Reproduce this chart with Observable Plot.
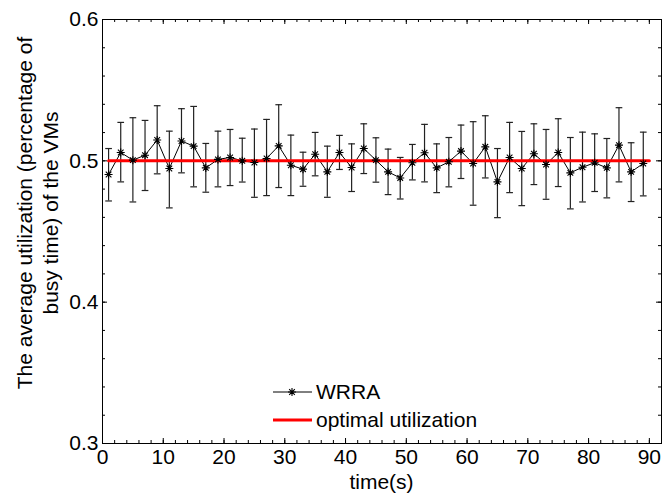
<!DOCTYPE html>
<html><head><meta charset="utf-8">
<script src="https://cdn.jsdelivr.net/npm/d3@7"></script>
<script src="https://cdn.jsdelivr.net/npm/@observablehq/plot@0.6"></script>
<style>
body{margin:0;background:#fff}
#chart{position:relative;width:664px;height:495px}
</style>
</head><body><div id="chart"></div>
<script>
// ---- data ----
const time = [1,3,5,7,9,11,13,15,17,19,21,23,25,27,29,31,33,35,37,39,41,43,45,47,49,51,53,55,57,59,61,63,65,67,69,71,73,75,77,79,81,83,85,87,89];
const wrra = [0.4903,0.5059,0.5005,0.5040,0.5147,0.4946,0.5140,0.5104,0.4950,0.5010,0.5024,0.5000,0.4988,0.5017,0.5106,0.4969,0.4941,0.5047,0.4922,0.5059,0.4953,0.5087,0.5005,0.4922,0.4879,0.4986,0.5057,0.4950,0.4993,0.5069,0.4981,0.5099,0.4851,0.5024,0.4946,0.5050,0.4974,0.5059,0.4915,0.4955,0.4986,0.4950,0.5111,0.4922,0.4981];
const wrraUpper = [0.5087,0.5272,0.5305,0.5286,0.5390,0.5210,0.5369,0.5385,0.5123,0.5210,0.5222,0.5160,0.5225,0.5293,0.5397,0.5182,0.5061,0.5201,0.5104,0.5180,0.5120,0.5262,0.5163,0.5083,0.5024,0.5116,0.5258,0.5120,0.5165,0.5253,0.5277,0.5319,0.5087,0.5272,0.5208,0.5262,0.5222,0.5298,0.5165,0.5203,0.5191,0.5158,0.5376,0.5128,0.5203];
const wrraLower = [0.4716,0.4851,0.4709,0.4790,0.4908,0.4667,0.4915,0.4816,0.4778,0.4816,0.4825,0.4850,0.4742,0.4754,0.4811,0.4754,0.4820,0.4894,0.4742,0.4939,0.4783,0.4910,0.4849,0.4761,0.4730,0.4865,0.4851,0.4775,0.4816,0.4875,0.4686,0.4879,0.4598,0.4775,0.4683,0.4832,0.4728,0.4818,0.4660,0.4709,0.4783,0.4738,0.4851,0.4712,0.4752];
const optimalTime = [1, 90];
const optimalValue = [0.5, 0.5];
const xTickLabels = [0,10,20,30,40,50,60,70,80,90];
const xMinorTicks = [0,2,4,6,8,10,12,14,16,18,20,22,24,26,28,30,32,34,36,38,40,42,44,46,48,50,52,54,56,58,60,62,64,66,68,70,72,74,76,78,80,82,84,86,88,90,92];
const yTickLabels = [0.3,0.4,0.5,0.6];
const yMinorTicks = [0.3,0.32,0.34,0.36,0.38,0.4,0.42,0.44,0.46,0.48,0.5,0.52,0.54,0.56,0.58,0.6];
const seriesNames = ["WRRA", "optimal utilization"];

// ---- tables ----
const wrraData = time.map((t, i) => ({t, v: wrra[i], lo: wrraLower[i], hi: wrraUpper[i]}));
const optData = optimalTime.map((t, i) => ({t, v: optimalValue[i]}));

// MATLAB-style '*' marker: + and x overlaid
const star = {
  draw(ctx, size) {
    const r = Math.sqrt(size / Math.PI), d = r * Math.SQRT1_2;
    ctx.moveTo(-r, 0); ctx.lineTo(r, 0);
    ctx.moveTo(0, -r); ctx.lineTo(0, r);
    ctx.moveTo(-d, -d); ctx.lineTo(d, d);
    ctx.moveTo(-d, d); ctx.lineTo(d, -d);
  }
};

const W = 664, H = 495, mL = 102, mR = 3, mT = 19, mB = 52;
const fw = W - mL - mR, fh = H - mT - mB;
const major = 5, minor = 3;
const capHalf = 0.55;
const FS = 21;
const font = "'Liberation Sans', Arial, Helvetica, sans-serif";

const chart = Plot.plot({
  width: W, height: H,
  marginLeft: mL, marginRight: mR, marginTop: mT, marginBottom: mB,
  style: {fontFamily: font, fontSize: FS + "px", color: "#000", background: "#fff"},
  x: {domain: [0, 92]},
  y: {domain: [0.3, 0.6]},
  marks: [
    // error bars
    Plot.ruleX(wrraData, {x: "t", y1: "lo", y2: "hi", stroke: "#222", strokeWidth: 1.2}),
    Plot.link(wrraData, {x1: d => d.t - capHalf, x2: d => d.t + capHalf, y1: "hi", y2: "hi", stroke: "#222", strokeWidth: 1.2}),
    Plot.link(wrraData, {x1: d => d.t - capHalf, x2: d => d.t + capHalf, y1: "lo", y2: "lo", stroke: "#222", strokeWidth: 1.2}),
    Plot.line(wrraData, {x: "t", y: "v", stroke: "#000", strokeWidth: 1}),
    Plot.line(optData, {x: "t", y: "v", stroke: "#ff0000", strokeWidth: 3}),
    Plot.dot(wrraData, {x: "t", y: "v", symbol: star, r: 4, stroke: "#000", strokeWidth: 1.1, fill: "none"}),
    // inward ticks on all four sides
    Plot.tickX(xMinorTicks, {x: d => d, insetTop: fh - minor, stroke: "#000"}),
    Plot.tickX(xMinorTicks, {x: d => d, insetBottom: fh - minor, stroke: "#000"}),
    Plot.tickX(xTickLabels, {x: d => d, insetTop: fh - major, stroke: "#000"}),
    Plot.tickX(xTickLabels, {x: d => d, insetBottom: fh - major, stroke: "#000"}),
    Plot.tickY(yMinorTicks, {y: d => d, insetRight: fw - minor, stroke: "#000"}),
    Plot.tickY(yMinorTicks, {y: d => d, insetLeft: fw - minor, stroke: "#000"}),
    Plot.tickY(yTickLabels, {y: d => d, insetRight: fw - major, stroke: "#000"}),
    Plot.tickY(yTickLabels, {y: d => d, insetLeft: fw - major, stroke: "#000"}),
    Plot.axisX({ticks: xTickLabels, tickSize: 0, tickPadding: 6, tickFormat: d => String(d), label: null, fontSize: FS}),
    Plot.axisY({ticks: yTickLabels, tickSize: 0, tickPadding: 4, tickFormat: d3.format(".1f"), label: null, fontSize: FS}),
    Plot.frame({stroke: "#000", strokeWidth: 1})
  ]
});

document.getElementById("chart").appendChild(chart);

// titles and legend (layout text)
const svg = d3.select(chart);
svg.append("text").attr("x", mL + fw / 2).attr("y", 489).attr("text-anchor", "middle")
  .attr("font-family", font).attr("font-size", FS).attr("fill", "#000").text("time(s)");
const yl = svg.append("text").attr("transform", `translate(0,213) rotate(-90)`)
  .attr("text-anchor", "middle").attr("font-family", font).attr("font-size", FS).attr("fill", "#000");
yl.append("tspan").attr("x", 0).attr("y", 32).text("The average utilization (percentage of");
yl.append("tspan").attr("x", 0).attr("y", 58).text("busy time) of the VMs");

const lg = svg.append("g").attr("font-family", font).attr("font-size", FS).attr("fill", "#000");
const legendRows = [
  {name: seriesNames[0], y: 392, color: "#000", width: 1, marker: true},
  {name: seriesNames[1], y: 420, color: "#ff0000", width: 3, marker: false}
];
legendRows.forEach(r => {
  lg.append("line").attr("x1", 273).attr("x2", 312).attr("y1", r.y).attr("y2", r.y)
    .attr("stroke", r.color).attr("stroke-width", r.width);
  if (r.marker) {
    lg.append("path").attr("transform", `translate(292,${r.y})`)
      .attr("d", d3.symbol(star, 16 * Math.PI)()).attr("stroke", "#000").attr("fill", "none").attr("stroke-width", 1.1);
  }
  lg.append("text").attr("x", 316).attr("y", r.y).attr("dy", "0.35em").attr("text-anchor", "start").text(r.name);
});
</script>
</body></html>
